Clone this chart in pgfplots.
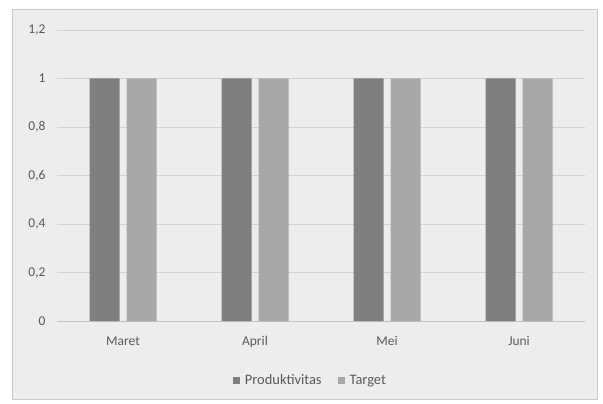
\documentclass[border=0pt]{standalone}
\usepackage{pgfplots}
\pgfplotsset{compat=1.18}
\usepackage{fontspec}
\setmainfont{Carlito}
\definecolor{bgc}{HTML}{EDEDED}
\definecolor{brd}{HTML}{C8C8C8}
\definecolor{darkbar}{HTML}{7F7F7F}
\definecolor{lightbar}{HTML}{A8A8A8}
\definecolor{gridc}{HTML}{D2D2D2}
\definecolor{txt}{HTML}{595959}
\begin{document}
\begin{tikzpicture}[x=1bp,y=1bp]
\fill[white] (0,0) rectangle (603,403);
\fill[bgc,draw=brd,line width=1bp] (12,4) rectangle (597,393);
\begin{axis}[
  at={(57bp,82bp)}, anchor=south west,
  scale only axis, width=528bp, height=291bp,
  ymin=0, ymax=1.2, xmin=-0.5, xmax=3.5,
  ytick={0,0.2,...,1.2},
  xtick=data, xticklabels={Maret,April,Mei,Juni},
  ybar, bar width=30bp,
  axis y line*=left, axis x line*=bottom,
  y axis line style={draw=none},
  x axis line style={draw=gridc!80!gray, line width=0.8bp},
  ymajorgrids, grid style={gridc, line width=0.8bp},
  major tick length=0pt,
  tick style={draw=none},
  /pgf/number format/assume math mode=true,
  /pgf/number format/use comma,
  yticklabel style={font=\fontsize{13.5}{16}\selectfont, text=txt, xshift=-8bp},
  xticklabel style={font=\fontsize{13.5}{16}\selectfont, text=txt, yshift=-12bp},
  legend style={at={(0.48,-0.17)}, anchor=north, draw=none, fill=none,
    legend columns=2, font=\fontsize{14.5}{17}\selectfont, text=txt,
    /tikz/every odd column/.append style={column sep=3bp},
    /tikz/every even column/.append style={column sep=14bp}},
  legend image code/.code={\fill[#1] (0bp,-4bp) rectangle (7bp,3.5bp);},
  clip=false,
]
\addplot[fill=darkbar, draw=none, bar shift=-18.5bp] coordinates {(0,1) (1,1) (2,1) (3,1)};
\addplot[fill=lightbar, draw=none, bar shift=18.5bp] coordinates {(0,1) (1,1) (2,1) (3,1)};
\legend{Produktivitas, Target}
\end{axis}
\end{tikzpicture}
\end{document}
